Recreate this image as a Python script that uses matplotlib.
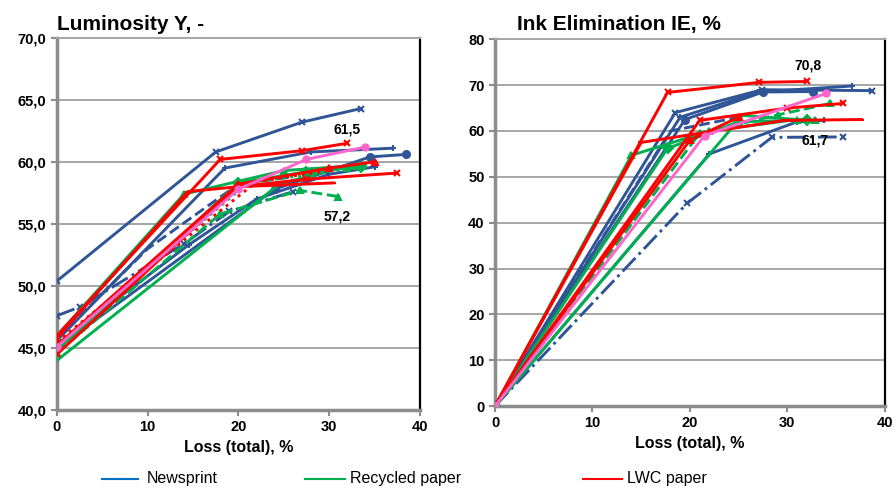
"""Luminosity and ink elimination vs. total loss, two panels."""

import matplotlib

matplotlib.use("Agg")
import matplotlib.pyplot as plt
from matplotlib.lines import Line2D
from matplotlib.ticker import FuncFormatter

plt.rcParams["font.family"] = ["Liberation Sans", "DejaVu Sans"]

# ---- data: luminosity Y (left panel) ----
lum_news_x = [[0, 17.5, 27, 33.5], [0, 18.5, 28, 37], [0, 24, 34.5, 38.5],
              [0, 2.5, 14, 19, 26], [0, 14.5, 22, 30, 35], [0, 10, 20, 26]]
lum_news_y = [[50.4, 60.8, 63.2, 64.3], [45.6, 59.5, 60.8, 61.1], [45.0, 57.8, 60.4, 60.6],
              [47.6, 48.3, 53.4, 56.0, 57.6], [45.3, 53.3, 57.0, 59.0, 59.6], [45.8, 53.0, 58.2, 58.8]]
lum_recy_x = [[0, 14, 25, 33], [0, 18, 26.8, 31], [0, 20, 27.5, 33.5],
              [0, 24.5, 30, 34], [0, 21, 28, 32]]
lum_recy_y = [[46.0, 57.4, 59.3, 59.7], [44.6, 55.8, 57.7, 57.2], [44.8, 58.3, 59.2, 59.6],
              [44.0, 58.2, 59.3, 59.8], [45.2, 58.3, 59.0, 59.5]]
lum_lwc_x = [[0, 18, 27, 32], [0, 14.4, 20, 30.4], [0, 20, 27.5, 37.5],
             [0, 20, 30, 35], [0, 22, 29]]
lum_lwc_y = [[46.0, 60.2, 60.9, 61.5], [45.8, 57.6, 58.0, 58.3], [44.5, 58.0, 58.6, 59.1],
             [45.2, 58.2, 59.5, 60.0], [45.5, 58.4, 59.2]]
lum_pink_x = [0, 20, 27.5, 34]
lum_pink_y = [45.1, 57.8, 60.2, 61.2]

# ---- data: ink elimination IE (right panel) ----
ie_news_x = [[0, 18.5, 27.4, 38.7], [0, 19, 27, 36.6], [0, 19.5, 27.5, 32.6],
             [0, 19.7, 28.4, 35.7], [0, 22, 31, 33.8], [0, 18, 25]]
ie_news_y = [[0, 64.0, 69.0, 68.8], [0, 63.0, 68.5, 69.8], [0, 62.5, 68.5, 68.6],
             [0, 44.2, 58.6, 58.7], [0, 55.0, 62.0, 62.3], [0, 60.0, 63.0]]
ie_recy_x = [[0, 14, 22, 31, 32.8], [0, 21, 29, 34.4], [0, 17.7, 25, 32], [0, 25.4, 31, 33]]
ie_recy_y = [[0, 54.7, 60.0, 62.5, 62.3], [0, 59.5, 63.5, 66.0], [0, 56.2, 62.0, 62.4],
             [0, 63.4, 62.5, 62.0]]
ie_lwc_x = [[0, 17.7, 27.1, 32], [0, 15, 21, 29.7, 37.6], [0, 21, 30, 35.7], [0, 20, 25]]
ie_lwc_y = [[0, 68.4, 70.6, 70.8], [0, 57.5, 59.5, 62.3, 62.5], [0, 62.3, 65.0, 66.0],
            [0, 58.0, 63.0]]
ie_pink_x = [0, 21.5, 34]
ie_pink_y = [0, 59.0, 68.2]

legend_labels = ["Newsprint", "Recycled paper", "LWC paper"]

# ---- styles ----
BLUE, GREEN, RED, PINK = "#2F5597", "#00B050", "#FF0000", "#FF66CC"
news_styles = [("-", "x"), ("-", "+"), ("-", "o"), ("-.", "x"), ("-", "+"), ("--", None)]
recy_styles = [("-", "^"), ("--", "^"), ("-", "D"), ("-", None), (":", "s")]
lwc_styles = [("-", "x"), ("-", "_"), ("-", "x"), ("-", "^"), (":", None)]


def draw_group(ax, xs, ys, color, styles):
    for x, y, (ls, mk) in zip(xs, ys, styles):
        ax.plot(x, y, color=color, linestyle=ls, marker=mk, lw=2.1,
                ms=5, mew=1.5, zorder=3)


def style_axes(ax, ylim, step, fmt):
    ax.set_xlim(0, 40)
    ax.set_ylim(*ylim)
    ax.set_xticks(range(0, 41, 10))
    ax.set_yticks(range(ylim[0], ylim[1] + 1, step))
    ax.yaxis.set_major_formatter(FuncFormatter(fmt))
    ax.grid(axis="y", color="#A6A6A6", lw=1.4, zorder=0)
    for side in ("left", "bottom"):
        ax.spines[side].set_color("#8C8C8C")
        ax.spines[side].set_linewidth(2.5)
    ax.spines["top"].set_color("#A6A6A6")
    ax.spines["top"].set_linewidth(1.4)
    ax.spines["right"].set_color("black")
    ax.spines["right"].set_linewidth(1.6)
    ax.tick_params(direction="out", length=4, width=1.5, color="#8C8C8C",
                   labelsize=10.5)
    for lab in ax.get_xticklabels() + ax.get_yticklabels():
        lab.set_fontweight("bold")
    ax.set_xlabel("Loss (total), %", fontsize=11.5, fontweight="bold", labelpad=4)


fig = plt.figure(figsize=(8.96, 4.91), dpi=100)
ax1 = fig.add_axes([0.0636, 0.165, 0.405, 0.758])
ax2 = fig.add_axes([0.5525, 0.173, 0.435, 0.747])

draw_group(ax1, lum_news_x, lum_news_y, BLUE, news_styles)
draw_group(ax1, lum_recy_x, lum_recy_y, GREEN, recy_styles)
draw_group(ax1, lum_lwc_x, lum_lwc_y, RED, lwc_styles)
ax1.plot(lum_pink_x, lum_pink_y, color=PINK, marker="o", lw=2.1, ms=5, zorder=3)
style_axes(ax1, (40, 70), 5, lambda v, p: f"{v:.1f}".replace(".", ","))
ax1.text(32, 62.6, "61,5", ha="center", va="center", fontsize=10, fontweight="bold")
ax1.text(30.9, 55.6, "57,2", ha="center", va="center", fontsize=10, fontweight="bold")

draw_group(ax2, ie_news_x, ie_news_y, BLUE, news_styles)
draw_group(ax2, ie_recy_x, ie_recy_y, GREEN, recy_styles)
draw_group(ax2, ie_lwc_x, ie_lwc_y, RED, lwc_styles)
ax2.plot(ie_pink_x, ie_pink_y, color=PINK, marker="o", lw=2.1, ms=5, zorder=3)
style_axes(ax2, (0, 80), 10, lambda v, p: f"{v:.0f}")
ax2.text(32.1, 74.3, "70,8", ha="center", va="center", fontsize=10, fontweight="bold")
ax2.text(32.8, 58.0, "61,7", ha="center", va="center", fontsize=10, fontweight="bold")

fig.text(57 / 896, 1 - 30 / 491, "Luminosity Y, -", fontsize=15, fontweight="bold",
         ha="left", va="baseline")
fig.text(517 / 896, 1 - 30 / 491, "Ink Elimination IE, %", fontsize=15,
         fontweight="bold", ha="left", va="baseline")

# legend drawn by hand along the bottom
legend_pos = [(102, 138, 147), (305, 345, 350), (583, 622, 627)]
legend_colors = ["#0070C0", GREEN, RED]
ly = 1 - 479 / 491
for (x0, x1, xt), col, lab in zip(legend_pos, legend_colors, legend_labels):
    fig.add_artist(Line2D([x0 / 896, x1 / 896], [ly, ly], color=col, lw=1.5,
                          transform=fig.transFigure))
    fig.text(xt / 896, ly, lab, fontsize=11.5, ha="left", va="center")

fig.savefig("out.png", dpi=100)
